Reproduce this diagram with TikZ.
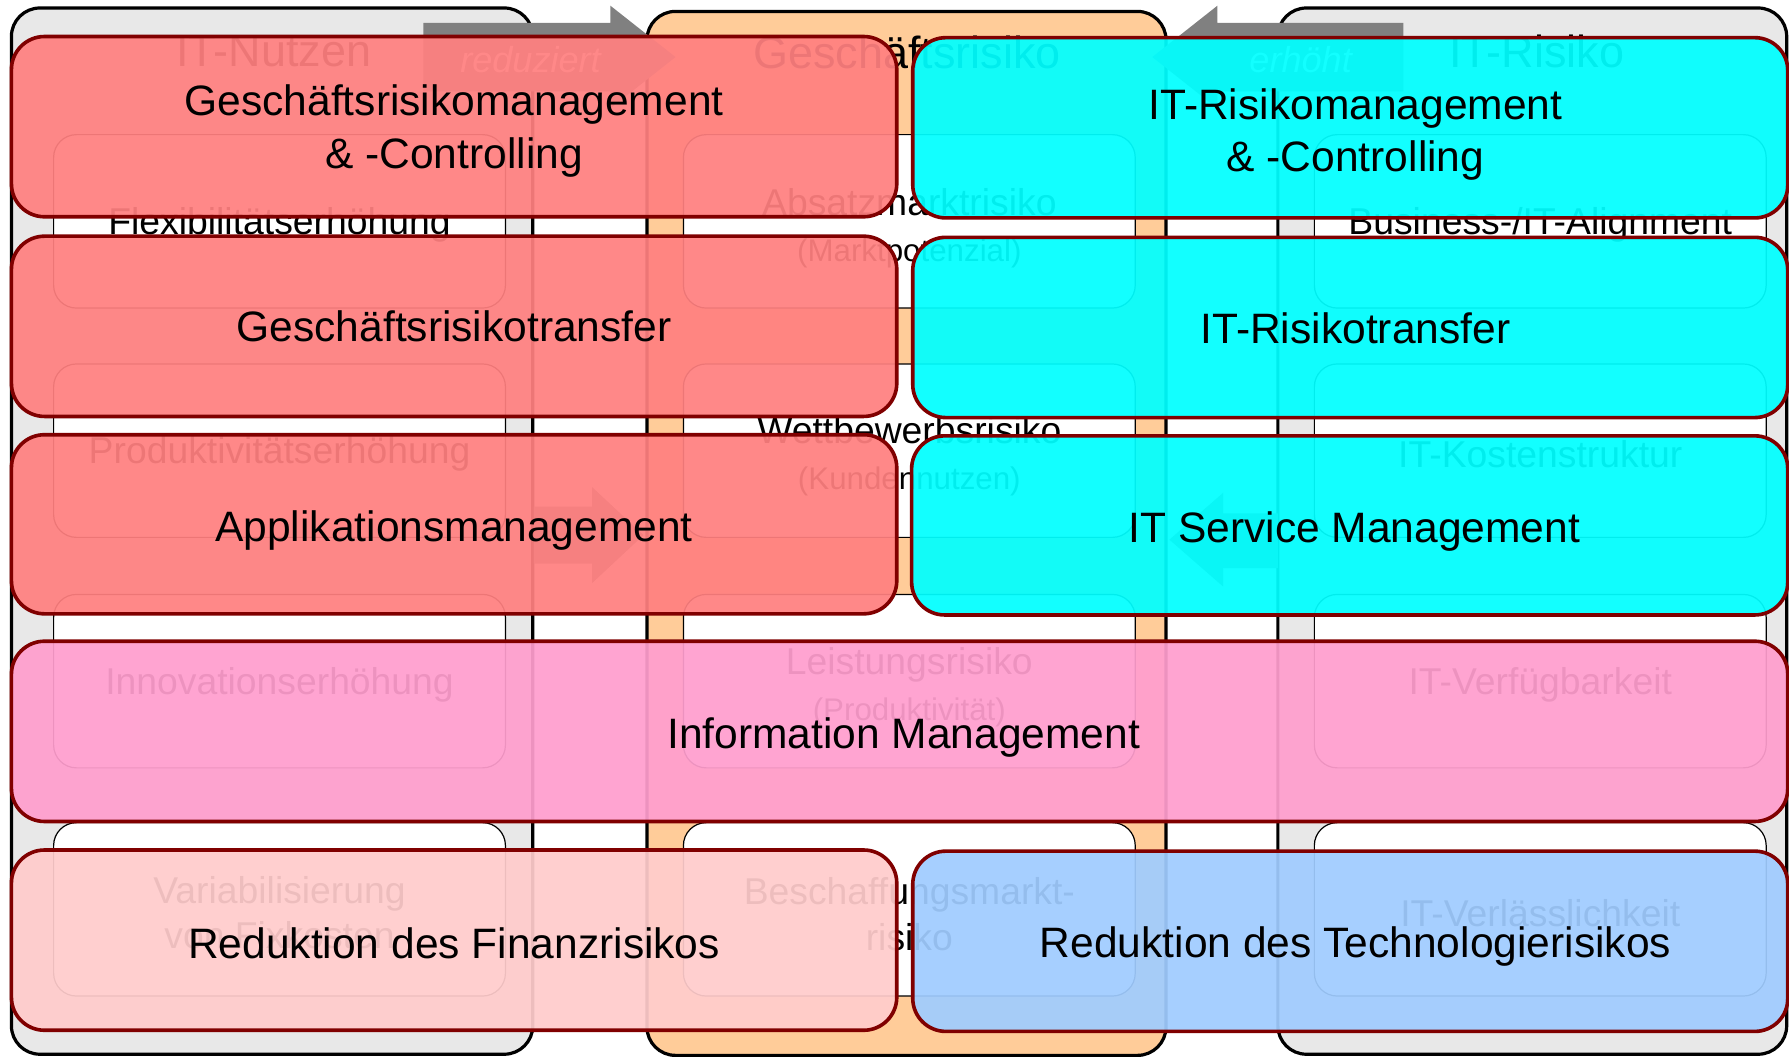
\documentclass[tikz,border=0pt]{standalone}
\usepackage{fontspec}
\setmainfont{Liberation Sans}

\definecolor{colgray}{HTML}{E8E8E8}
\definecolor{colorange}{HTML}{FFCC99}
\definecolor{arrowgray}{HTML}{808080}
\definecolor{taskline}{HTML}{800000}
\definecolor{taskred}{HTML}{FF8080}
\definecolor{taskcyan}{HTML}{00FFFF}
\definecolor{taskpink}{HTML}{FF9ECE}
\definecolor{tasklight}{HTML}{FFCCCC}
\definecolor{taskblue}{HTML}{A0CCFF}

\begin{document}
\begin{tikzpicture}[x=0.01cm, y=-0.01cm,
    column/.style={draw=black, line width=0.8pt, rounded corners=0.25cm},
    cell/.style={draw=black, line width=0.3pt, fill=white, rounded corners=0.2cm},
    celltext/.style={align=center, font=\fontsize{9.3}{11.4}\selectfont},
    head/.style={font=\fontsize{11.2}{13}\selectfont},
    arr/.style={fill=arrowgray},
    arrtext/.style={text=white, font=\itshape\fontsize{9}{11}\selectfont},
    task/.style={draw=taskline, line width=0.9pt, rounded corners=0.29cm, fill opacity=0.93},
    tasktext/.style={align=center, font=\fontsize{10.6}{13.1}\selectfont}]
    \useasboundingbox (0,0) rectangle (1568,927);
    \fill[white] (0,0) rectangle (1568,927);

    % the three columns
    \draw[column, fill=colgray] (10,7) rectangle (467,924);
    \draw[column, fill=colorange] (567,10) rectangle (1022,925);
    \draw[column, fill=colgray] (1120,7) rectangle (1566,924);

    \node[head] (nutzen) at (240,45) {IT-Nutzen};
    \node[head] (gesrisiko) at (795,46) {Geschäftsrisiko};
    \node[head] (itrisiko) at (1347,45) {IT-Risiko};

    \foreach \x in {47,599,1152}
        \foreach \y in {118,319,521,721}
            \draw[cell] (\x,\y) rectangle ++(396,152);

    \node[celltext] (flex) at (245,197) {Flexibilitätserhöhung};
    \node[celltext] (prod) at (245,398) {Produktivitätserhöhung};
    \node[celltext] (inno) at (245,600) {Innovationserhöhung};
    \node[celltext] (vari) at (245,800) {Variabilisierung\\von Fixkosten};

    \node[celltext] (absatz) at (797,200) {Absatzmarktrisiko\\{\fontsize{7.8}{9}\selectfont(Marktpotenzial)}};
    \node[celltext] (wettb) at (797,400) {Wettbewerbsrisiko\\{\fontsize{7.8}{9}\selectfont(Kundennutzen)}};
    \node[celltext] (leist) at (797,602) {Leistungsrisiko\\{\fontsize{7.8}{9}\selectfont(Produktivität)}};
    \node[celltext] (beschaff) at (797,801) {Beschaffungsmarkt-\\risiko};

    \node[celltext] (alignment) at (1350,197) {Business-/IT-Alignment};
    \node[celltext] (kosten) at (1350,398) {IT-Kostenstruktur};
    \node[celltext] (verfueg) at (1350,600) {IT-Verfügbarkeit};
    \node[celltext] (verlass) at (1350,800) {IT-Verlässlichkeit};

    % arrows
    \fill[arr] (371,20) -- (535,20) -- (535,5) -- (592,50) -- (535,95) -- (535,80) -- (371,80) -- cycle;
    \node[arrtext] (reduziert) at (465,52) {reduziert};
    \fill[arr] (1230,20) -- (1067,20) -- (1067,5) -- (1010,50) -- (1067,95) -- (1067,80) -- (1230,80) -- cycle;
    \node[arrtext] (erhoeht) at (1140,52) {erhöht};
    \fill[arr] (468,444) -- (519,444) -- (519,427) -- (564,469) -- (519,511) -- (519,494) -- (468,494) -- cycle;
    \fill[arr] (1120,450) -- (1072,450) -- (1072,432) -- (1025,473) -- (1072,514) -- (1072,498) -- (1120,498) -- cycle;

    % overlay
    \draw[task, fill=taskred] (10,32) rectangle (786,190);
    \node[tasktext] (gsmanage) at (398,115) {Geschäftsrisikomanagement\\\& -Controlling};
    \draw[task, fill=taskcyan] (800,33) rectangle (1567,191);
    \node[tasktext] (itmanage) at (1188,118) {IT-Risikomanagement\\\& -Controlling};

    \draw[task, fill=taskred] (10,207) rectangle (786,365);
    \node[tasktext] (gstransfer) at (398,286) {Geschäftsrisikotransfer};
    \draw[task, fill=taskcyan] (800,208) rectangle (1567,366);
    \node[tasktext] (ittransfer) at (1188,288) {IT-Risikotransfer};

    \draw[task, fill=taskred] (10,381) rectangle (786,538);
    \node[tasktext] (appman) at (398,465) {Applikationsmanagement};
    \draw[task, fill=taskcyan] (799,382) rectangle (1567,539);
    \node[tasktext] (itsm) at (1187,466) {IT Service Management};

    \draw[task, fill=taskpink] (10,562) rectangle (1567,720);
    \node[tasktext] (infoman) at (792,646) {Information Management};

    \draw[task, fill=tasklight] (10,745) rectangle (786,903);
    \node[tasktext] (finanz) at (398,827) {Reduktion des Finanzrisikos};
    \draw[task, fill=taskblue] (800,746) rectangle (1567,904);
    \node[tasktext] (techno) at (1188,830) {Reduktion des Technologierisikos};
\end{tikzpicture}
\end{document}
